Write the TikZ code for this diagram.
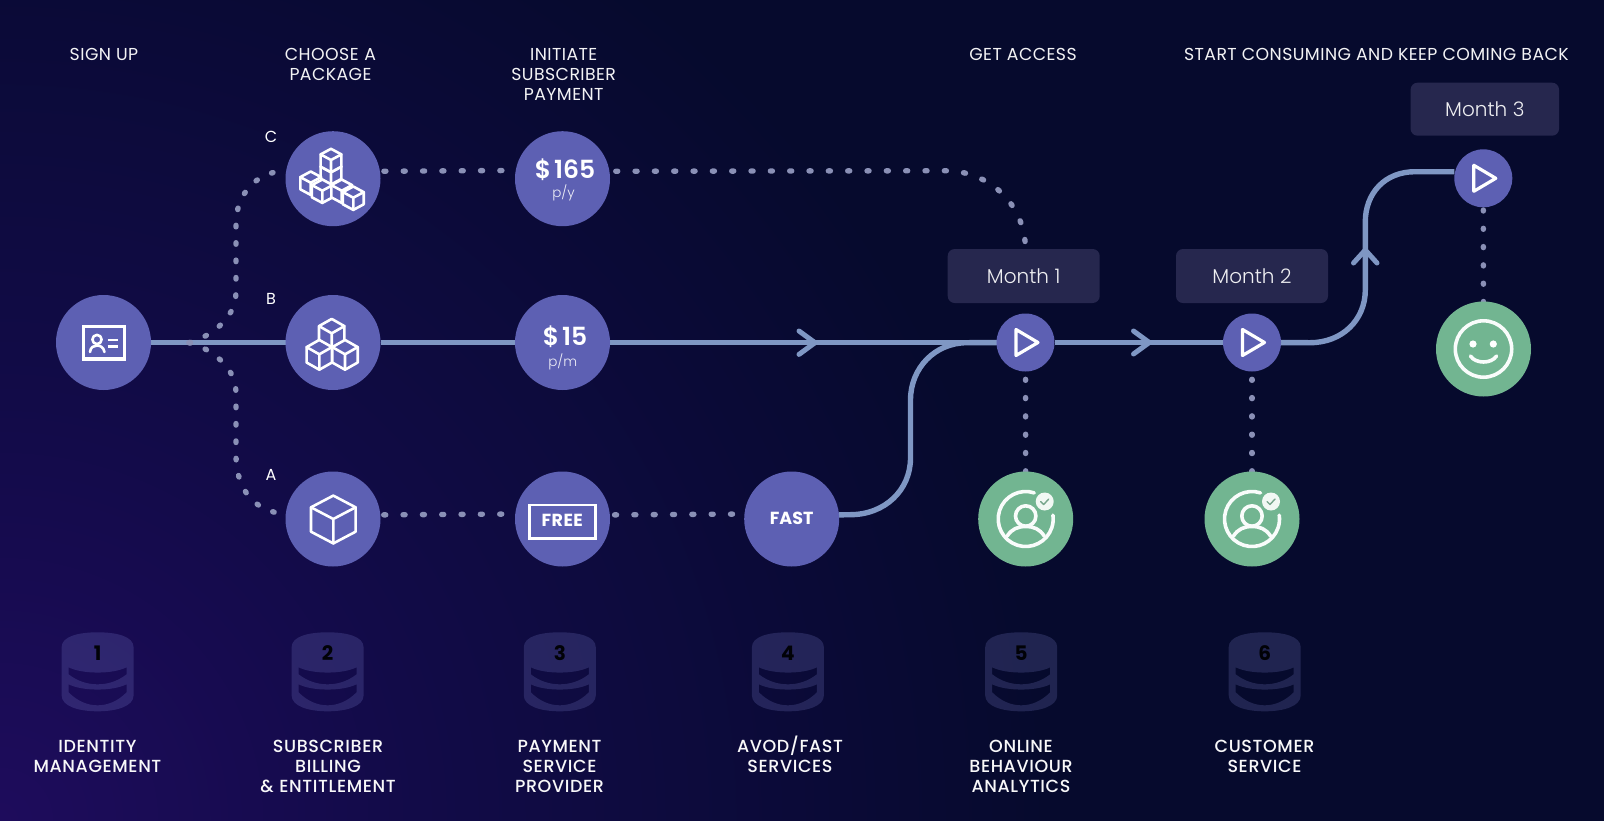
\documentclass[tikz,border=0pt]{standalone}
\usepackage{fontspec}
\setmainfont{Poppins}
\newfontfamily\ltf{Poppins Light}
\newfontfamily\mdf{Poppins Medium}
\newfontfamily\sbf{Poppins SemiBold}
\newfontfamily\headf[LetterSpace=2.5]{Poppins}
\newfontfamily\footf[LetterSpace=3.5]{Poppins Medium}
\newfontfamily\btnf[LetterSpace=2.5]{Poppins}
\usetikzlibrary{calc,backgrounds}
\definecolor{bgbase}{HTML}{060A2D}
\definecolor{bgglow}{HTML}{1E0C5C}
\definecolor{bgmid}{HTML}{120B48}
\definecolor{puckc}{HTML}{5D60B3}
\definecolor{greenc}{HTML}{72B591}
\definecolor{linec}{HTML}{7F97C4}
\definecolor{dotc}{HTML}{8A90B6}
\definecolor{boxc}{HTML}{26274E}
\definecolor{dbc}{HTML}{8A90E0}
\pgfdeclareradialshading{glow}{\pgfpoint{0bp}{0bp}}{color(0bp)=(bgglow); color(10bp)=(bgmid); color(25bp)=(bgbase); color(50bp)=(bgbase)}
\pgfdeclarelayer{lines}
\pgfdeclarelayer{back}
\pgfsetlayers{back,lines,main}
\tikzset{
 x=1pt,y=-1pt,
 puck/.style={circle,fill=puckc,inner sep=0pt,outer sep=0pt,minimum size=95pt,text=white},
 smallpuck/.style={circle,fill=puckc,inner sep=0pt,outer sep=0pt,minimum size=58pt},
 greenpuck/.style={circle,fill=greenc,inner sep=0pt,outer sep=0pt,minimum size=95pt},
 monthbox/.style={rectangle,rounded corners=7pt,fill=boxc,text=white!92!boxc,minimum width=152pt,minimum height=54pt,inner sep=0pt,font=\ltf\fontsize{20}{24}\selectfont},
 mainline/.style={draw=linec,line width=5.4pt},
 chevron/.style={draw=linec,line width=5pt,line cap=round,line join=round},
 dothline/.style={draw=dotc,line width=5.4pt,line cap=round,dash pattern=on 2pt off 17.33pt},
 dotvline/.style={draw=dotc,line width=5.4pt,line cap=round,dash pattern=on 1pt off 17.3pt},
 dotbranch/.style={draw=dotc,line width=5.4pt,line cap=round,dash pattern=on 1.5pt off 15.9pt},
 iconline/.style={draw=white,line width=3.2pt,line join=round,line cap=round},
 greenline/.style={draw=white!96!greenc,line width=3.6pt,line join=round,line cap=round},
 headlabel/.style={text=white!95!bgbase,align=center,font=\headf\fontsize{17.3}{20}\selectfont,inner sep=0pt},
 footlabel/.style={text=white!97!bgbase,align=center,font=\footf\fontsize{17.5}{20}\selectfont,inner sep=0pt},
 letterlabel/.style={text=white,font=\fontsize{16}{18}\selectfont,inner sep=0pt},
 numlabel/.style={text=black!85!bgbase,font=\bfseries\fontsize{20}{24}\selectfont,inner sep=0pt},
 pricelabel/.style={text=white,font=\sbf\fontsize{25}{30}\selectfont,inner sep=0pt},
 perlabel/.style={text=white!90!puckc,font=\ltf\fontsize{13.5}{16}\selectfont,inner sep=0pt},
}
\newcommand{\footA}{\rule{0pt}{16pt}}
\newcommand{\footZ}{\rule[-5pt]{0pt}{5pt}}
\newcommand{\isocube}[4]{% cx cy w h
 \begin{scope}[shift={(#1,#2)}]
 \filldraw[iconline,line width=2.6pt,fill=puckc] (0,-2*#4) -- (#3,-#4) -- (#3,#4+1) -- (0,2*#4+1) -- (-#3,#4+1) -- (-#3,-#4) -- cycle;
 \draw[iconline,line width=2.6pt] (-#3,-#4) -- (0,0) -- (#3,-#4) (0,0) -- (0,2*#4+1);
 \end{scope}}
\newcommand{\playicon}[1]{%
 \draw[iconline] ($(#1.center)+(-9.5,-13)$) -- ($(#1.center)+(-9.5,13)$) -- ($(#1.center)+(12.5,0)$) -- cycle;}
\newcommand{\personicon}[1]{%
 \begin{scope}[shift={(#1.center)}]
 \draw[greenline] (72:27.5pt) arc[start angle=72,end angle=368,radius=27.5pt];
 \draw[greenline] (0,-3) circle[radius=10.2];
 \draw[greenline] (-18.5,17) .. controls (-14,10) and (-8,7.5) .. (0,7.5) .. controls (8,7.5) and (14,10) .. (18.5,17);
 \fill[white!90!greenc] (19,-17.5) circle[radius=9];
 \draw[draw=greenc!70!gray,line width=1.4pt,line cap=round,line join=round] (15,-17.5) -- (18,-14.5) -- (23,-20);
 \end{scope}}
\newcommand{\dbicon}[3]{% name x number
 \begin{scope}[shift={(#2,632.3)}]
 \fill[dbc,opacity=.2,even odd rule]
  (-36,15) .. controls (-36,4) and (-19,0) .. (0,0) .. controls (19,0) and (36,4) .. (36,15)
  -- (36,63) .. controls (36,74) and (19,79) .. (0,79) .. controls (-19,79) and (-36,74) .. (-36,63) -- cycle
  (-29,35) .. controls (-15,42) and (15,42) .. (29,35) -- (29,42) .. controls (20,49) and (10,52) .. (0,52) .. controls (-10,52) and (-20,49) .. (-29,42) -- cycle
  (-29,52) .. controls (-15,59) and (15,59) .. (29,52) -- (29,60) .. controls (20,69) and (10,73) .. (0,73) .. controls (-10,73) and (-20,69) .. (-29,60) -- cycle;
 \node[numlabel] (#1) at (0,20.5) {#3};
 \end{scope}}
\begin{document}
\begin{tikzpicture}
\useasboundingbox (0,0) rectangle (1604,820);
% ---- nodes
\node[puck] (id) at (103.5,342.5) {};
\node[puck] (pC) at (333,178.7) {};
\node[puck] (pB) at (333,342.5) {};
\node[puck] (pA) at (333,519) {};
\node[puck] (m165) at (562.5,178.7) {};
\node[puck] (m15) at (562.5,342.5) {};
\node[puck] (free) at (562.5,519) {};
\node[puck] (fast) at (791.7,519) {};
\node[smallpuck] (play1) at (1025.5,342.5) {};
\node[smallpuck] (play2) at (1252,342.5) {};
\node[smallpuck] (play3) at (1483.3,178.3) {};
\node[greenpuck] (g1) at (1025.7,519) {};
\node[greenpuck] (g2) at (1252,519) {};
\node[greenpuck] (g3) at (1483.5,349) {};
\node[monthbox] (mo1) at (1023.7,276) {Month 1};
\node[monthbox] (mo2) at (1252,276) {Month 2};
\node[monthbox,minimum width=148.5pt,minimum height=53pt] (mo3) at (1484.8,109.2) {Month 3};
% texts
\node[headlabel] (h1) at (104,54.5) {SIGN UP};
\node[headlabel,text width=200pt] (h2) at (330.5,64.5) {CHOOSE A\\PACKAGE};
\node[headlabel,text width=200pt] (h3) at (563.7,74.5) {INITIATE\\SUBSCRIBER\\PAYMENT};
\node[headlabel] (h4) at (1023,54.5) {GET ACCESS};
\node[headlabel] (h5) at (1376.4,54.5) {START CONSUMING AND KEEP COMING BACK};
\node[letterlabel] (lC) at (271,137) {C};
\node[letterlabel] (lB) at (271,298.7) {B};
\node[letterlabel] (lA) at (271,474.7) {A};
\node[pricelabel] (t165) at (565,169.3) {\$\kern3pt165};
\node[perlabel] (t165b) at (563.5,193) {p/y};
\node[pricelabel] (t15) at (565,336.7) {\$\kern3pt15};
\node[perlabel] (t15b) at (562.7,361.7) {p/m};
\node[draw=white,line width=2.6pt,minimum width=66pt,minimum height=33.5pt,inner sep=0pt,text=white,font=\btnf\bfseries\fontsize{17.5}{20}\selectfont] (tfree) at (562.3,521.8) {\raisebox{3pt}{FREE}};
\node[text=white,font=\bfseries\fontsize{17.5}{20}\selectfont,inner sep=0pt] (tfast) at (791.7,518) {FAST};
\node[footlabel,text width=220pt] (f1) at (97.5,756.5) {\footA IDENTITY\\MANAGEMENT\footZ};
\node[footlabel,text width=220pt] (f2) at (328,766.5) {\footA SUBSCRIBER\\BILLING\\\& ENTITLEMENT\footZ};
\node[footlabel,text width=220pt] (f3) at (559.5,766.5) {\footA PAYMENT\\SERVICE\\PROVIDER\footZ};
\node[footlabel,text width=220pt] (f4) at (790,756.5) {\footA AVOD/FAST\\SERVICES\footZ};
\node[footlabel,text width=220pt] (f5) at (1021,766.5) {\footA ONLINE\\BEHAVIOUR\\ANALYTICS\footZ};
\node[footlabel,text width=220pt] (f6) at (1264.5,756.5) {\footA CUSTOMER\\SERVICE\footZ};
% icons
\draw[iconline,line join=miter] (83.3,326.3) rectangle (124.3,359);
\draw[iconline,line width=2.6pt] (97,339.5) circle[radius=4.6];
\draw[iconline,line width=2.6pt] (90,352) .. controls (90.5,347) and (94,345.5) .. (97,345.5) .. controls (100,345.5) and (103.5,347) .. (104.5,352);
\draw[iconline,line width=2.6pt,line cap=butt] (107.5,340) -- (118,340) (107.5,346.7) -- (118,346.7);
\isocube{331.7}{333.3}{12.7}{7.2}
\isocube{319.3}{354.3}{12.7}{7.2}
\isocube{345}{354.3}{12.7}{7.2}
\isocube{333.3}{519}{22.3}{11.7}
\isocube{331}{172.3}{10.4}{5.6}
\isocube{331}{160}{10.4}{5.6}
\isocube{310.7}{182.7}{10.4}{5.6}
\isocube{322.3}{190.7}{10.4}{5.6}
\isocube{341.7}{190.7}{10.4}{5.6}
\isocube{353.3}{197.7}{10.4}{5.6}
\playicon{play1}
\playicon{play2}
\playicon{play3}
\personicon{g1}
\personicon{g2}
\begin{scope}[shift={(g3.center)}]
 \draw[greenline] (0,0) circle[radius=28.2];
 \fill[white] (-10.5,-5) circle[radius=3.6] (9.8,-5) circle[radius=3.6];
 \draw[greenline] (-13,7) .. controls (-8,15) and (8,15) .. (13,7);
\end{scope}
\dbicon{n1}{97.6}{1}
\dbicon{n2}{327.6}{2}
\dbicon{n3}{559.8}{3}
\dbicon{n4}{787.9}{4}
\dbicon{n5}{1021.2}{5}
\dbicon{n6}{1264.7}{6}
% ---- background
\begin{pgfonlayer}{back}
 \fill[bgbase] (-6,-6) rectangle (1610,826);
 \begin{scope}
 \clip (-6,-6) rectangle (1610,826);
 \shade[shading=glow] (0,820) circle[radius=1050];
 \end{scope}
\end{pgfonlayer}
% ---- connectors
\begin{pgfonlayer}{lines}
 \coordinate (split) at (189,342.7);
 \draw[mainline] (id) -- (pB);
 \draw[mainline] (pB) -- (m15);
 \draw[mainline] (m15) -- (play1);
 \draw[mainline] (play1) -- (play2);
 \draw[mainline] (fast.5) -- (850,514.7) .. controls (885,514.7) and (910.5,490) .. (910.5,458) -- (910.5,400) .. controls (910.5,368) and (935,342.7) .. (967,342.7) -- (play1);
 \draw[mainline] (play2) -- (1310,342.7) .. controls (1342,342.7) and (1365.3,320) .. (1365.3,290) -- (1365.3,222) .. controls (1365.3,193) and (1385,171.7) .. (1415,171.7) -- (play3.west |- 0,171.7);
 % chevrons
 \draw[chevron] (799,331) -- (815,342.7) -- (799,354.4);
 \draw[chevron] (1133.5,331) -- (1149.3,342.5) -- (1133.5,354);
 \draw[chevron] (1353.5,263) -- (1365.3,250) -- (1377,263);
 % dotted
 \draw[dothline,dash phase=15.33pt] (pC.9.7) -- (m165.170.3);
 \draw[dothline,dash phase=13pt] (m165.9.7) -- (945,170.7) .. controls (990,170.7) and (1025.5,205) .. (1025.5,250) -- (play1);
 \draw[dothline,dash phase=15.9pt] (pA.5.2) -- (free.174.8);
 \draw[dothline,dash phase=14.6pt] (free.5.2) -- (fast.174.8);
 \draw[dotbranch] (split) .. controls (204,339) and (236,322) .. (236,292) -- (236,224) .. controls (236,195) and (255,172) .. (pC.170.3);
 \draw[dotbranch] (split) .. controls (204,346) and (236,363) .. (236,393) -- (236,455) .. controls (236,490) and (255,512) .. (pA.174.8);
 \draw[dotvline,dash phase=18.1pt] (play1.center) -- (g1.center);
 \draw[dotvline,dash phase=18.1pt] (play2.center) -- (g2.center);
 \draw[dotvline,dash phase=4.9pt] (play3.center) -- (g3.center);
\end{pgfonlayer}
\end{tikzpicture}
\end{document}
